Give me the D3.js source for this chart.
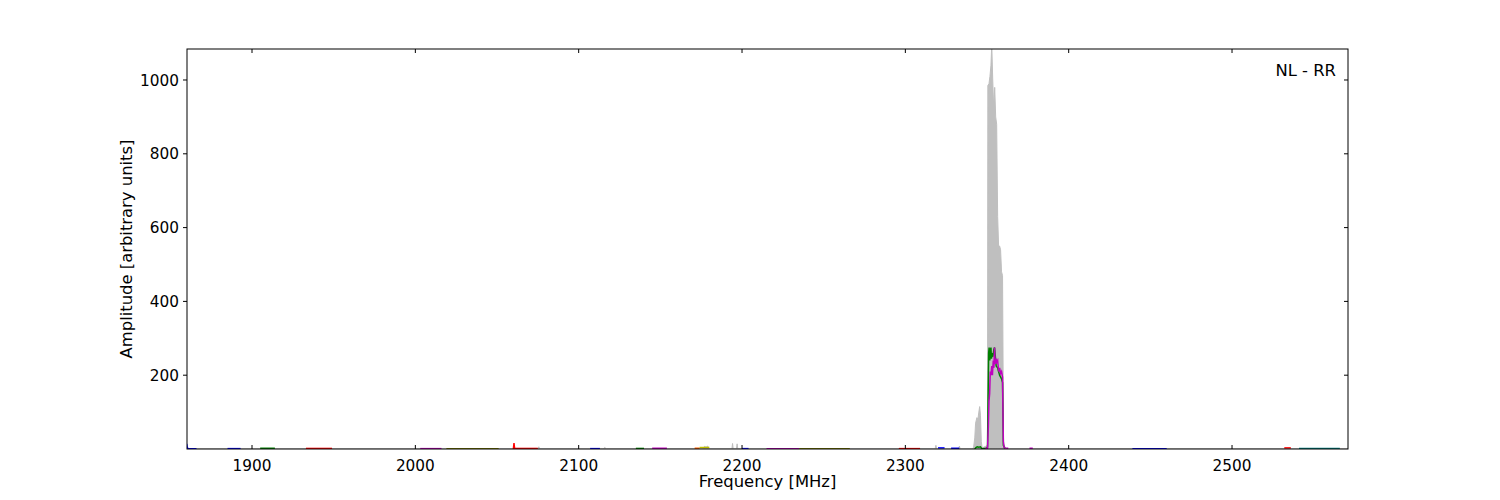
<!DOCTYPE html>
<html>
<head>
<meta charset="utf-8">
<script src="https://cdn.jsdelivr.net/npm/d3@7"></script>
<style>
  body { margin: 0; background: #fff; }
  svg text { font-family: "DejaVu Sans", sans-serif; }
</style>
</head>
<body>
<script>
'use strict';

// grey total-power spectrum (MHz, amplitude)
const greyFreq = [1860, 2075, 2075.6, 2076.2, 2115, 2116, 2117, 2176, 2177, 2178, 2179, 2180,
  2193.8, 2194.2, 2194.6, 2196.6, 2197, 2197.4, 2318.2, 2318.7, 2319.2, 2332.6, 2333.1, 2333.6,
  2341.0, 2341.8, 2342.5, 2343.0, 2343.8, 2344.4, 2345.0, 2345.5, 2346.0, 2346.5, 2347.0,
  2348.0, 2349.5, 2350.3, 2350.5, 2351.2, 2351.8, 2352.4, 2352.9, 2353.5, 2354.1, 2354.7,
  2355.3, 2355.9, 2356.5, 2357.1, 2357.7, 2358.3, 2358.9, 2359.5, 2360.1, 2361, 2362, 2571];
const greyAmp = [0, 0, 6, 0, 0, 4, 0, 0, 7, 5, 8, 0,
  0, 15, 0, 0, 14, 0, 0, 10, 0, 0, 8, 0,
  0, 5, 30, 70, 85, 80, 100, 115, 90, 20, 3,
  5, 8, 10, 985, 990, 1010, 1040, 1095, 1000, 920, 980,
  900, 880, 630, 550, 550, 540, 480, 470, 15, 5, 0, 0];

// green channel
const greenFreq = [2342.5, 2343.2, 2344.0, 2345.0, 2346.0, 2346.8, 2349.5, 2350.3, 2350.6, 2351.0,
  2351.3, 2351.7, 2352.0, 2352.4, 2352.7, 2353.2, 2353.6, 2354.2, 2354.6, 2355.0, 2355.6,
  2356.5, 2357.7, 2358.9, 2359.5, 2360.0, 2361];
const greenAmp = [0, 4, 6, 5, 6, 1, 2, 5, 120, 260, 275, 240, 265, 275, 245, 260, 250, 270, 275,
  255, 225, 220, 200, 190, 180, 10, 2];

// magenta channel
const magentaFreq = [2349.0, 2350.3, 2350.8, 2351.2, 2351.6, 2352.0, 2352.4, 2352.9, 2353.3,
  2353.8, 2354.2, 2354.6, 2355.0, 2355.5, 2355.9, 2356.5, 2357.1, 2357.7, 2358.3, 2358.9,
  2359.5, 2360.0, 2360.5, 2363];
const magentaAmp = [2, 2, 60, 130, 150, 210, 200, 225, 200, 240, 220, 275, 230, 245, 235, 240,
  210, 220, 205, 210, 195, 20, 3, 2];

// low-level sub-band channels along the baseline
const bandColor = ['#0000ff', '#0000ff', '#008000', '#ff0000', '#bf00bf', '#808000', '#ff0000',
  '#ff0000', '#0000ff', '#008000', '#bf00bf', '#ff6000', '#bfbf00', '#0000ff', '#bf00bf',
  '#808000', '#ff0000', '#0000ff', '#0000ff', '#bf00bf', '#0000ff', '#ff0000', '#008080'];
const bandFreq = [[1860, 1860.4, 1861, 1866], [1885, 1893], [1905, 1914], [1933, 1949],
  [2003, 2016], [2019, 2051], [2060.0, 2060.4, 2060.8], [2061, 2075], [2107, 2113],
  [2135, 2140], [2145, 2154], [2171, 2174], [2174, 2180], [2200, 2204], [2215, 2235],
  [2235, 2266], [2296, 2309], [2320, 2324], [2328, 2333], [2376, 2378], [2439, 2460],
  [2532, 2536], [2541, 2566]];
const bandAmp = [[14, 3, 1, 1], [1, 1], [2, 2], [1.5, 1.5], [1, 1], [0.5, 0.5], [0, 16, 0],
  [1.5, 1.5], [1, 1], [1.5, 1.5], [2, 2], [2, 2], [4, 4], [1, 1], [1, 1], [1, 1], [1, 1],
  [3, 3], [2, 2], [2, 2], [1, 1], [3, 3], [1.5, 1.5]];

const xTicks = [1900, 2000, 2100, 2200, 2300, 2400, 2500];
const yTicks = [200, 400, 600, 800, 1000];

(function() {

  const W = 1500, H = 500;
  const pLeft = 187, pRight = 1348, pTop = 49, pBottom = 449;
  const tickFont = '15.3px', labelFont = '16.4px';

  const svg = d3.select('body').append('svg')
    .attr('width', W)
    .attr('height', H);

  const x = d3.scaleLinear().domain([1860.2, 2571]).range([pLeft, pRight]);
  const y = d3.scaleLinear().domain([0, 1084]).range([pBottom, pTop]);

  svg.append('clipPath').attr('id', 'clip')
    .append('rect')
    .attr('x', pLeft).attr('y', pTop)
    .attr('width', pRight - pLeft).attr('height', pBottom - pTop);

  const plot = svg.append('g').attr('clip-path', 'url(#clip)');

  const zip = (fs, as) => fs.map((f, i) => [f, as[i]]);

  const area = d3.area()
    .x(d => x(d[0]))
    .y0(y(0))
    .y1(d => y(d[1]));
  const line = d3.line()
    .x(d => x(d[0]))
    .y(d => y(d[1]));

  plot.append('path')
    .datum(zip(greyFreq, greyAmp))
    .attr('fill', '#bfbfbf')
    .attr('stroke', '#bfbfbf')
    .attr('stroke-width', 1)
    .attr('d', area);

  bandFreq.forEach((fs, i) => {
    plot.append('path')
      .datum(zip(fs, bandAmp[i]))
      .attr('fill', 'none')
      .attr('stroke', bandColor[i])
      .attr('stroke-width', 1.5)
      .attr('d', line);
  });

  plot.append('path')
    .datum(zip(greenFreq, greenAmp))
    .attr('fill', 'none')
    .attr('stroke', '#008000')
    .attr('stroke-width', 1.5)
    .attr('d', line);

  plot.append('path')
    .datum(zip(magentaFreq, magentaAmp))
    .attr('fill', 'none')
    .attr('stroke', '#bf00bf')
    .attr('stroke-width', 1.5)
    .attr('d', line);

  // frame and ticks, matplotlib style
  const tickLen = 4;
  const frame = svg.append('g');

  xTicks.forEach(t => {
    frame.append('line')
      .attr('x1', x(t)).attr('x2', x(t))
      .attr('y1', pBottom).attr('y2', pBottom - tickLen)
      .attr('stroke', '#000');
    frame.append('line')
      .attr('x1', x(t)).attr('x2', x(t))
      .attr('y1', pTop).attr('y2', pTop + tickLen)
      .attr('stroke', '#000');
    frame.append('text')
      .attr('x', x(t))
      .attr('y', pBottom + 22)
      .attr('text-anchor', 'middle')
      .style('font-size', tickFont)
      .text(t);
  });

  yTicks.forEach(t => {
    frame.append('line')
      .attr('x1', pLeft).attr('x2', pLeft - tickLen)
      .attr('y1', y(t)).attr('y2', y(t))
      .attr('stroke', '#000');
    frame.append('line')
      .attr('x1', pRight).attr('x2', pRight - tickLen)
      .attr('y1', y(t)).attr('y2', y(t))
      .attr('stroke', '#000');
    frame.append('text')
      .attr('x', pLeft - 8)
      .attr('y', y(t))
      .attr('dy', '0.36em')
      .attr('text-anchor', 'end')
      .style('font-size', tickFont)
      .text(t);
  });

  frame.append('rect')
    .attr('x', pLeft).attr('y', pTop)
    .attr('width', pRight - pLeft).attr('height', pBottom - pTop)
    .attr('fill', 'none')
    .attr('stroke', '#000')
    .attr('stroke-width', 1);

  svg.append('text')
    .attr('x', (pLeft + pRight) / 2)
    .attr('y', 487)
    .attr('text-anchor', 'middle')
    .style('font-size', labelFont)
    .text('Frequency [MHz]');

  svg.append('text')
    .attr('transform', 'translate(132,' + ((pTop + pBottom) / 2) + ')rotate(-90)')
    .attr('text-anchor', 'middle')
    .style('font-size', labelFont)
    .text('Amplitude [arbitrary units]');

  svg.append('text')
    .attr('x', 1336)
    .attr('y', 76)
    .attr('text-anchor', 'end')
    .style('font-size', labelFont)
    .text('NL - RR');

})();
</script>
</body>
</html>
